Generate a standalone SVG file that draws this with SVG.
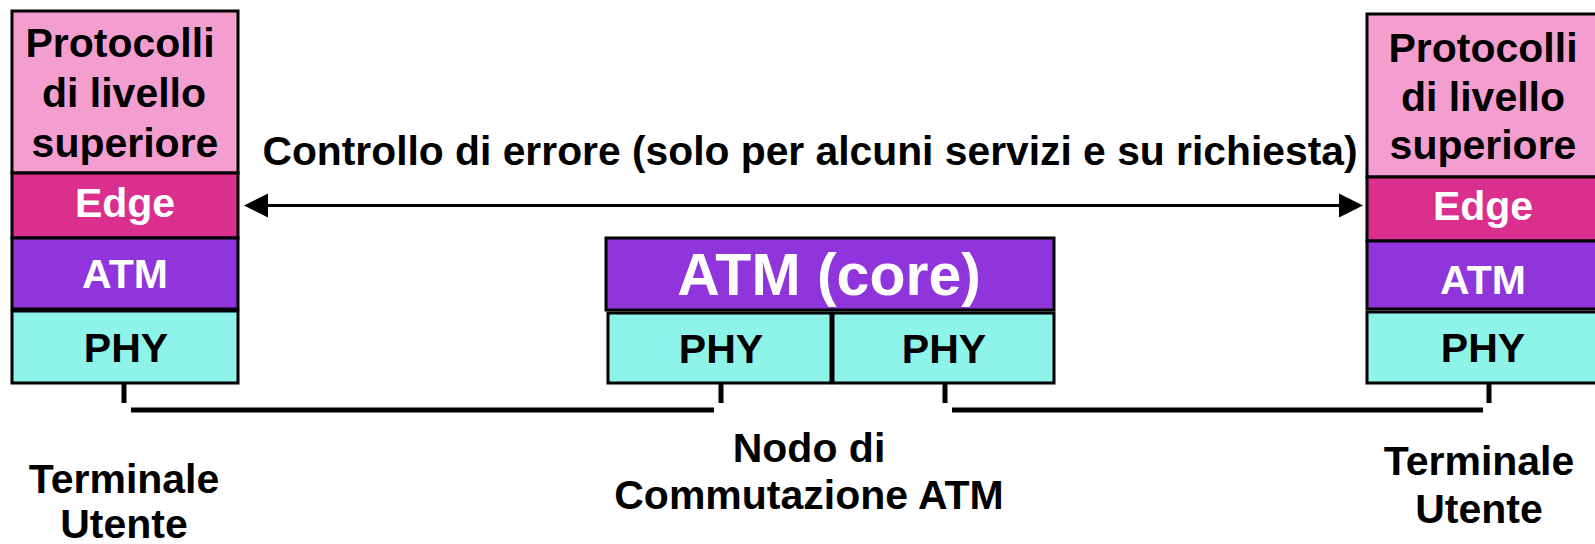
<svg xmlns="http://www.w3.org/2000/svg" width="1595" height="544" viewBox="0 0 1595 544">
<defs>
<style>
.box{stroke:#000;stroke-width:3}
.pink{fill:#F49ED0}
.edge{fill:#DB2F8D}
.atm{fill:#9035DC}
.phy{fill:#8EF3E8}
text{font-family:"Liberation Sans",Arial,sans-serif;font-weight:bold;font-size:41px;text-anchor:middle;fill:#000}
.w{fill:#fff}
.conn{stroke:#000;fill:none}
</style>
</defs>
<rect width="1595" height="544" fill="#fff"/>
<g id="terminale-sx">
<rect class="box pink" x="12" y="11" width="226" height="162"/>
<rect class="box edge" x="12" y="173" width="226" height="65"/>
<rect class="box atm" x="12" y="238" width="226" height="71"/>
<rect class="box phy" x="12" y="311" width="226" height="72"/>
<text x="120" y="57">Protocolli</text>
<text x="124" y="107">di livello</text>
<text x="125" y="157">superiore</text>
<text class="w" x="125" y="217">Edge</text>
<text class="w" x="125" y="288">ATM</text>
<text x="126" y="362">PHY</text>
<text x="124" y="493">Terminale</text>
<text x="124" y="538">Utente</text>
</g>
<g id="nodo">
<rect class="box atm" x="606" y="238" width="448" height="72"/>
<rect class="box phy" x="608" y="313" width="223" height="70"/>
<rect class="box phy" x="833" y="313" width="221" height="70"/>
<text class="w" x="829" y="295" style="font-size:59px">ATM (core)</text>
<text x="721" y="363">PHY</text>
<text x="944" y="363">PHY</text>
<text x="809" y="462">Nodo di</text>
<text x="809" y="509">Commutazione ATM</text>
</g>
<g id="terminale-dx">
<rect class="box pink" x="1367" y="14" width="232" height="163"/>
<rect class="box edge" x="1367" y="177" width="232" height="64"/>
<rect class="box atm" x="1367" y="241" width="232" height="68"/>
<rect class="box phy" x="1367" y="312" width="232" height="71"/>
<text x="1483" y="62">Protocolli</text>
<text x="1483" y="111">di livello</text>
<text x="1483" y="159">superiore</text>
<text class="w" x="1483" y="220">Edge</text>
<text class="w" x="1483" y="294">ATM</text>
<text x="1483" y="362">PHY</text>
<text x="1479" y="475">Terminale</text>
<text x="1479" y="523">Utente</text>
</g>
<g id="connettori">
<line class="conn" x1="124" y1="383" x2="124" y2="403" stroke-width="5"/>
<line class="conn" x1="721" y1="383" x2="721" y2="403" stroke-width="5"/>
<line class="conn" x1="945" y1="383" x2="945" y2="403" stroke-width="5"/>
<line class="conn" x1="1489" y1="383" x2="1489" y2="403" stroke-width="5"/>
<line class="conn" x1="131" y1="410" x2="714" y2="410" stroke-width="5"/>
<line class="conn" x1="952" y1="410" x2="1483" y2="410" stroke-width="5"/>
<line class="conn" x1="266" y1="205.5" x2="1341" y2="205.5" stroke-width="3"/>
<polygon points="244,205.5 268,193.5 268,217.5" fill="#000"/>
<polygon points="1363,205.5 1339,193.5 1339,217.5" fill="#000"/>
</g>
<g id="etichetta">
<text x="810" y="165" style="font-size:40.8px">Controllo di errore (solo per alcuni servizi e su richiesta)</text>
</g>
</svg>
